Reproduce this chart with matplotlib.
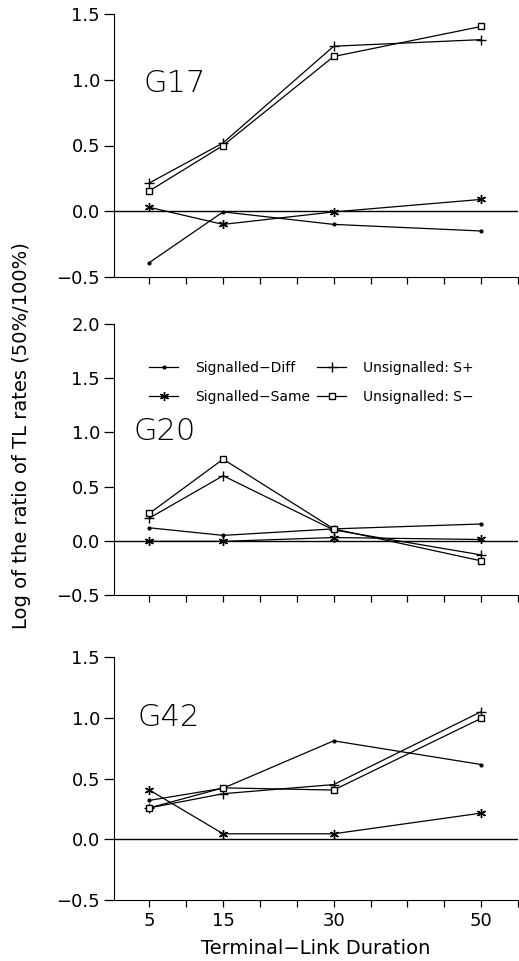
import numpy as np
import matplotlib
matplotlib.use("Agg")
import matplotlib.pyplot as plt

durations = [5, 15, 30, 50]
groups = ["G17", "G20", "G42"]

# log ratios, one list per condition and group
sig_diff = {
    "G17": [-0.39, -0.005, -0.10, -0.15],
    "G20": [0.12, 0.05, 0.11, 0.155],
    "G42": [0.32, 0.42, 0.81, 0.615],
}
sig_same = {
    "G17": [0.03, -0.10, -0.005, 0.09],
    "G20": [-0.005, -0.005, 0.03, 0.012],
    "G42": [0.405, 0.045, 0.045, 0.215],
}
unsig_plus = {
    "G17": [0.215, 0.52, 1.255, 1.305],
    "G20": [0.21, 0.60, 0.10, -0.13],
    "G42": [0.258, 0.375, 0.45, 1.05],
}
unsig_minus = {
    "G17": [0.155, 0.50, 1.177, 1.405],
    "G20": [0.253, 0.753, 0.11, -0.185],
    "G42": [0.258, 0.423, 0.405, 0.995],
}

y_tops = {"G17": 1.5, "G20": 2.0, "G42": 1.5}
label_pos = {"G17": (4.2, 0.97), "G20": (2.8, 1.01), "G42": (3.4, 1.0)}

W, H = 519, 961
# axes boxes in pixels: (top, bottom)
boxes = {"G17": (14, 277), "G20": (324, 595), "G42": (657, 900)}
left_px, right_px = 114, 518

plt.rcParams['font.family'] = ['DejaVu Sans']
plt.rcParams['axes.unicode_minus'] = True
fig = plt.figure(figsize=(W / 100, H / 100), dpi=100)

asterisk = (6, 2, 0)


def fmt(v, pos):
    return f"{v:.1f}".replace("-", "\u2212")


for g in groups:
    top, bot = boxes[g]
    ax = fig.add_axes([left_px / W, 1 - bot / H, (right_px - left_px) / W, (bot - top) / H])

    ax.axhline(0, color="black", lw=1.0, zorder=1)

    ax.plot(durations, sig_diff[g], color="black", lw=0.9, marker="o", ms=2.0,
            label="Signalled\u2212Diff")
    ax.plot(durations, sig_same[g], color="black", lw=0.9, marker=asterisk, ms=6.5,
            mew=1.0, label="Signalled\u2212Same")
    ax.plot(durations, unsig_plus[g], color="black", lw=0.9, marker="+", ms=7.5,
            mew=1.0, label="Unsignalled: S+")
    ax.plot(durations, unsig_minus[g], color="black", lw=0.9, marker="s", ms=4.8,
            mfc="white", mew=1.0, label="Unsignalled: S\u2212")

    ax.set_xlim(0.2, 55)
    ax.set_ylim(-0.5, y_tops[g])
    ax.set_yticks(np.arange(-0.5, y_tops[g] + 0.01, 0.5))
    ax.yaxis.set_major_formatter(matplotlib.ticker.FuncFormatter(fmt))

    xt = np.arange(5, 56, 5)
    ax.set_xticks(xt)
    if g == "G42":
        ax.set_xticklabels([str(v) if v in durations else "" for v in xt])
        ax.set_xlabel("Terminal\u2212Link Duration", fontsize=14, labelpad=6)
    else:
        ax.set_xticklabels([])

    ax.spines["top"].set_visible(False)
    ax.spines["right"].set_visible(False)
    ax.tick_params(axis="y", direction="out", length=7, width=0.9, labelsize=13, pad=3)
    ax.tick_params(axis="x", direction="out", length=5, width=0.9, labelsize=13, pad=4)

    lx, ly = label_pos[g]
    ax.text(lx, ly, g, fontsize=22, va="center", ha="left", fontweight="light")

    if g == "G20":
        ax.legend(loc="upper left", bbox_to_anchor=(0.07, 0.89), ncol=2, frameon=False,
                  fontsize=10, handlelength=2.1, columnspacing=0.5, handletextpad=1.2,
                  labelspacing=1.1, borderpad=0)

fig.text(22 / W, 1 - 436 / H, "Log of the ratio of TL rates (50%/100%)", rotation=90,
         fontsize=14, ha="center", va="center")

fig.savefig("out.png", dpi=100)
